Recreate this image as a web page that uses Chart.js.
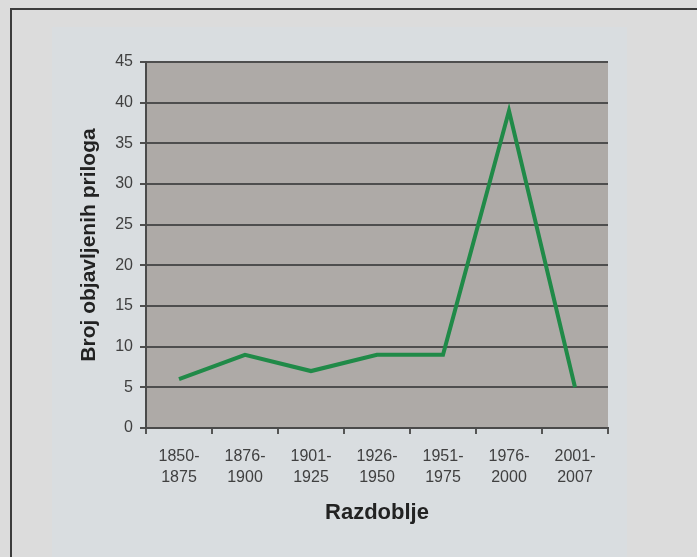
<!DOCTYPE html>
<html>
<head>
<meta charset="utf-8">
<script src="https://cdn.jsdelivr.net/npm/chart.js@4"></script>
<style>
  html, body { margin: 0; padding: 0; background: #dcdcdc; }
  #wrap { width: 697px; height: 557px; position: relative; }
</style>
</head>
<body>
<div id="wrap"><canvas id="chart"></canvas></div>
<script>
const periods = [
  ["1850-", "1875"], ["1876-", "1900"], ["1901-", "1925"], ["1926-", "1950"],
  ["1951-", "1975"], ["1976-", "2000"], ["2001-", "2007"]
];
const contributions = [6, 9, 7, 9, 9, 39, 5];
const yTitle = "Broj objavljenih priloga";
const xTitle = "Razdoblje";

// page frame + plot background
const framePlugin = {
  id: "frame",
  beforeDraw(chart) {
    const { ctx, chartArea: a } = chart;
    ctx.save();
    ctx.fillStyle = "#dcdcdc";
    ctx.fillRect(0, 0, chart.width, chart.height);
    ctx.fillStyle = "#d9dde0";
    ctx.fillRect(52, 27, 575, chart.height - 27);
    ctx.strokeStyle = "#3c3c3c";
    ctx.lineWidth = 2;
    ctx.beginPath();
    ctx.moveTo(11, chart.height);
    ctx.lineTo(11, 9);
    ctx.lineTo(chart.width, 9);
    ctx.stroke();
    ctx.fillStyle = "#aeaaa7";
    ctx.fillRect(a.left, a.top, a.right - a.left, a.bottom - a.top);
    ctx.restore();
  }
};

const ctx = document.getElementById("chart").getContext("2d");
new Chart(ctx, {
  type: "line",
  data: {
    labels: periods,
    datasets: [{
      data: contributions,
      borderColor: "#208a48",
      borderWidth: 4,
      pointRadius: 0,
      tension: 0,
      fill: false
    }]
  },
  options: {
    responsive: true,
    maintainAspectRatio: false,
    animation: false,
    layout: { padding: { left: 77, top: 62, right: 89, bottom: 31 } },
    plugins: {
      legend: { display: false },
      tooltip: { enabled: false }
    },
    scales: {
      x: {
        offset: true,
        afterFit(scale) { scale.height = 98; },
        grid: {
          display: true,
          offset: true,
          drawOnChartArea: false,
          drawTicks: true,
          tickLength: 6,
          color: "#555555",
          lineWidth: 2
        },
        border: { color: "#4a4a4a", width: 2 },
        ticks: {
          color: "#404040",
          padding: 12,
          maxRotation: 0,
          font: { family: "Liberation Sans", size: 16, lineHeight: 1.3 }
        },
        title: {
          display: true,
          text: xTitle,
          color: "#222222",
          padding: 0,
          font: { family: "Liberation Sans", size: 22, weight: "bold" }
        }
      },
      y: {
        min: 0,
        max: 45,
        afterFit(scale) { scale.width = 69; },
        grid: {
          color: "#4e4e4e",
          lineWidth: 2,
          tickLength: 6,
          drawTicks: true
        },
        border: { color: "#4a4a4a", width: 2 },
        ticks: {
          stepSize: 5,
          color: "#404040",
          padding: 7,
          font: { family: "Liberation Sans", size: 16 }
        },
        title: {
          display: true,
          text: yTitle,
          color: "#222222",
          padding: 0,
          font: { family: "Liberation Sans", size: 21, weight: "bold" }
        }
      }
    }
  },
  plugins: [framePlugin]
});
</script>
</body>
</html>
